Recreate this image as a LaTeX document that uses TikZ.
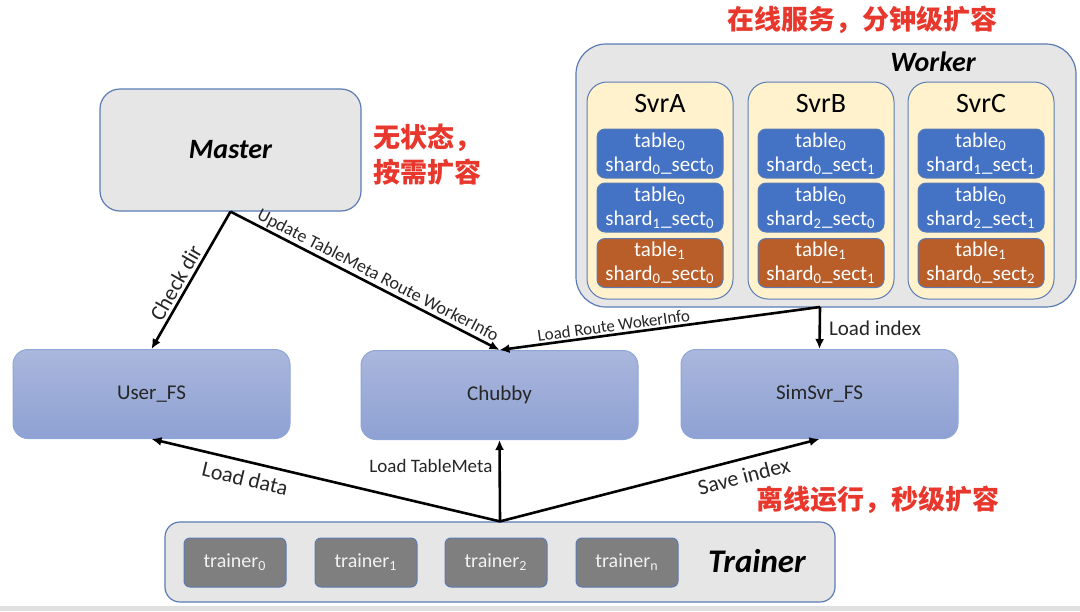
\documentclass[tikz,border=0pt]{standalone}
\usepackage{fontspec}
\setmainfont{Carlito}
\newfontfamily\cjk{Noto Sans CJK SC}
\usetikzlibrary{arrows.meta}
\definecolor{boxgray}{HTML}{E6E6E6}
\definecolor{edgeblue}{HTML}{5B7BB4}
\definecolor{svrcream}{HTML}{FFF2CC}
\definecolor{shardblue}{HTML}{4472C4}
\definecolor{shardorange}{HTML}{B95D29}
\definecolor{fstop}{HTML}{AAB7DD}
\definecolor{fsbottom}{HTML}{8EA1D3}
\definecolor{fsedge}{HTML}{8EA6D8}
\definecolor{trainergray}{HTML}{7F7F7F}
\definecolor{notered}{HTML}{E8372C}
\newcommand{\lo}[1]{\textsubscript{#1}}

\begin{document}
\begin{tikzpicture}[x=0.5pt, y=-0.5pt,
  panel/.style={draw=edgeblue, fill=boxgray, rounded corners=#1, line width=0.6pt},
  panel/.default=8pt,
  svrbox/.style={draw=edgeblue, fill=svrcream, rounded corners=10pt, line width=0.5pt,
    minimum width=73pt, minimum height=108.5pt},
  shard/.style={draw=edgeblue, fill=#1, rounded corners=4pt, line width=0.5pt, text=white,
    minimum width=63pt, minimum height=24.5pt, inner sep=1pt, align=center,
    font=\fontsize{10.5}{12}\selectfont},
  fsbox/.style={draw=fsedge, top color=fstop, bottom color=fsbottom, rounded corners=7.5pt,
    line width=0.5pt, minimum width=138.5pt, minimum height=44.5pt, text=black!85,
    font=\fontsize{10.5}{12}\selectfont},
  trbox/.style={draw=edgeblue, fill=trainergray, rounded corners=3pt, line width=0.5pt,
    minimum width=51pt, minimum height=24.5pt, text=white!95!black,
    font=\fontsize{10}{12}\selectfont},
  title/.style={font=\bfseries\itshape\fontsize{#1}{#1}\selectfont},
  note/.style={text=notered, font=\cjk\bfseries\fontsize{13.5}{17.5}\selectfont, align=left},
  conn/.style={line width=1.3pt, -{Latex[length=5pt,width=4.5pt]}},
  lbl/.style={font=\fontsize{#1}{#1}\selectfont, text=black!85, inner sep=1.5pt},
  lbl/.default=11]
  \useasboundingbox (0,0) rectangle (1080,611);
  \fill[black!12] (0,606) rectangle (1080,611);

  % Master
  \node[panel=10pt, minimum width=130.5pt, minimum height=61pt] (master) at (230.5,150)
    {\bfseries\itshape\fontsize{14}{14}\selectfont Master};
  \node[note, anchor=west] (note-master) at (366,154.5) {无状态，\\按需扩容};

  % Worker
  \node[panel=15pt, minimum width=250pt, minimum height=131.5pt] (worker) at (826,175.5) {};
  \node[title=14] (worker-title) at (933,62) {Worker};
  \node[note] (note-worker) at (862,20) {在线服务，分钟级扩容};

  % SvrA
  \node[svrbox] (svra) at (660,190.5) {};
  \node[font=\fontsize{14}{14}\selectfont] (svra-title) at (660,104) {SvrA};
  \node[shard=shardblue] (a1) at (660,153.5) {table\lo{0}\\shard\lo{0}\_sect\lo{0}};
  \node[shard=shardblue] (a2) at (660,207.5) {table\lo{0}\\shard\lo{1}\_sect\lo{0}};
  \node[shard=shardorange] (a3) at (660,263) {table\lo{1}\\shard\lo{0}\_sect\lo{0}};
  % SvrB
  \node[svrbox] (svrb) at (821,190.5) {};
  \node[font=\fontsize{14}{14}\selectfont] (svrb-title) at (821,104) {SvrB};
  \node[shard=shardblue] (b1) at (821,153.5) {table\lo{0}\\shard\lo{0}\_sect\lo{1}};
  \node[shard=shardblue] (b2) at (821,207.5) {table\lo{0}\\shard\lo{2}\_sect\lo{0}};
  \node[shard=shardorange] (b3) at (821,263) {table\lo{1}\\shard\lo{0}\_sect\lo{1}};
  % SvrC
  \node[svrbox] (svrc) at (981,190.5) {};
  \node[font=\fontsize{14}{14}\selectfont] (svrc-title) at (981,104) {SvrC};
  \node[shard=shardblue] (c1) at (981,153.5) {table\lo{0}\\shard\lo{1}\_sect\lo{1}};
  \node[shard=shardblue] (c2) at (981,207.5) {table\lo{0}\\shard\lo{2}\_sect\lo{1}};
  \node[shard=shardorange] (c3) at (981,263) {table\lo{1}\\shard\lo{0}\_sect\lo{2}};

  % file systems
  \node[fsbox] (userfs) at (151.5,394) {User\_FS};
  \node[fsbox] (chubby) at (499.5,395) {Chubby};
  \node[fsbox] (simsvr) at (819.5,394) {SimSvr\_FS};

  % Trainer
  \node[panel=7.5pt, minimum width=335pt, minimum height=40pt] (trainer) at (500,562) {};
  \node[trbox] (t0) at (235,562.5) {trainer\lo{0}};
  \node[trbox] (t1) at (366,562.5) {trainer\lo{1}};
  \node[trbox] (t2) at (496,562.5) {trainer\lo{2}};
  \node[trbox] (tn) at (627,562.5) {trainer\lo{n}};
  \node[title=16.5] (trainer-title) at (757,561) {Trainer};
  \node[note] (note-trainer) at (878,500) {离线运行，秒级扩容};

  % connectors
  \coordinate (wout) at (820,307);
  \draw[conn] (master.south) -- node[lbl, sloped, above, pos=0.56] {Check dir} (userfs.north);
  \draw[conn] (master.south) -- node[lbl=9, sloped, above, pos=0.53, inner sep=0.5pt]
    {Update TableMeta Route WorkerInfo} (chubby.north);
  \draw[conn] (wout) -- node[lbl=8.5, sloped, above, pos=0.64, inner sep=1pt]
    {Load Route WokerInfo} (chubby.north);
  \draw[conn] (wout) -- node[lbl=10.5, right, inner sep=4pt] {Load index} (simsvr.north);
  \draw[conn] (trainer.north) -- node[lbl, sloped, below, pos=0.72, inner sep=4pt]
    {Load data} (userfs.south);
  \draw[conn] (trainer.north) -- node[lbl=9.5, left, pos=0.68, inner sep=3pt]
    {Load TableMeta} (chubby.south);
  \draw[conn] (trainer.north) -- node[lbl, sloped, below, pos=0.75, inner sep=4pt]
    {Save index} (simsvr.south);
\end{tikzpicture}
\end{document}
